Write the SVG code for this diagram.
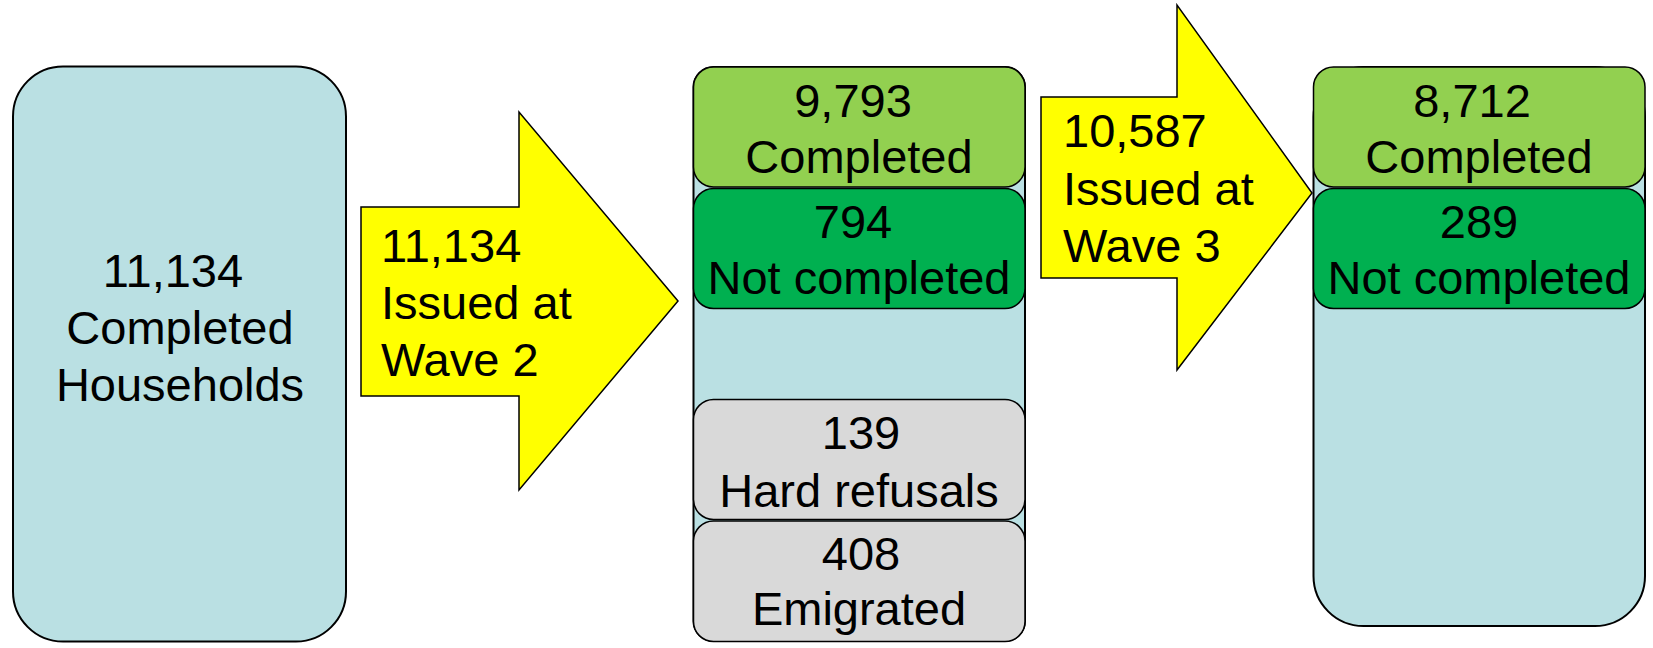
<svg xmlns="http://www.w3.org/2000/svg" width="1653" height="648" viewBox="0 0 1653 648">
<style>
.bg{fill:#BAE0E3;stroke:#000;stroke-width:2}
.lg{fill:#92D050;stroke:#000;stroke-width:1.5}
.dg{fill:#00B050;stroke:#000;stroke-width:1.5}
.gr{fill:#D9D9D9;stroke:#000;stroke-width:1.5}
.ar{fill:#FFFF00;stroke:#000;stroke-width:1.5;stroke-linejoin:miter}
text{font-family:"Liberation Sans",Arial,sans-serif;font-size:47px;fill:#000}
.c{text-anchor:middle}
</style>
<rect width="1653" height="648" fill="#fff"/>
<g id="start">
<rect class="bg" x="13" y="66.5" width="333" height="575" rx="50"/>
<text class="c" x="180" y="287"><tspan x="173">11,134</tspan><tspan x="180" dy="57">Completed</tspan><tspan x="180" dy="57">Households</tspan></text>
</g>
<g id="connectors">
<g id="arrow1">
<polygon class="ar" points="361,207 519,207 519,112 678,301 519,490 519,396 361,396"/>
<text x="381" y="262"><tspan x="381">11,134</tspan><tspan x="381" dy="57">Issued at</tspan><tspan x="381" dy="57">Wave 2</tspan></text>
</g>
<g id="arrow2">
<polygon class="ar" points="1041,97 1177,97 1177,5 1312,193 1177,370 1177,278 1041,278"/>
<text x="1063" y="147"><tspan x="1063">10,587</tspan><tspan x="1063" dy="57.5">Issued at</tspan><tspan x="1063" dy="57.5">Wave 3</tspan></text>
</g>
</g>
<g id="wave2">
<rect class="bg" x="693.5" y="67" width="331.5" height="574" rx="20"/>
<g id="w2-completed">
<rect class="lg" x="693.5" y="67" width="331.5" height="120" rx="20"/>
<text class="c" x="853" y="117">9,793</text>
<text class="c" x="859" y="173">Completed</text>
</g>
<g id="w2-notcompleted">
<rect class="dg" x="693.5" y="188.5" width="331.5" height="120" rx="20"/>
<text class="c" x="853" y="238">794</text>
<text class="c" x="859" y="294">Not completed</text>
</g>
<g id="w2-refusals">
<rect class="gr" x="693.5" y="399.5" width="331.5" height="120" rx="20"/>
<text class="c" x="861" y="449">139</text>
<text class="c" x="859" y="507">Hard refusals</text>
</g>
<g id="w2-emigrated">
<rect class="gr" x="693.5" y="521" width="331.5" height="120.5" rx="20"/>
<text class="c" x="861" y="570">408</text>
<text class="c" x="859" y="625">Emigrated</text>
</g>
</g>
<g id="wave3">
<rect class="bg" x="1313.5" y="67" width="331.5" height="559" rx="50"/>
<g id="w3-completed">
<rect class="lg" x="1313.5" y="67" width="331.5" height="120" rx="20"/>
<text class="c" x="1472" y="117">8,712</text>
<text class="c" x="1479" y="173">Completed</text>
</g>
<g id="w3-notcompleted">
<rect class="dg" x="1313.5" y="188.5" width="331.5" height="120" rx="20"/>
<text class="c" x="1479" y="238">289</text>
<text class="c" x="1479" y="294">Not completed</text>
</g>
</g>
</svg>
